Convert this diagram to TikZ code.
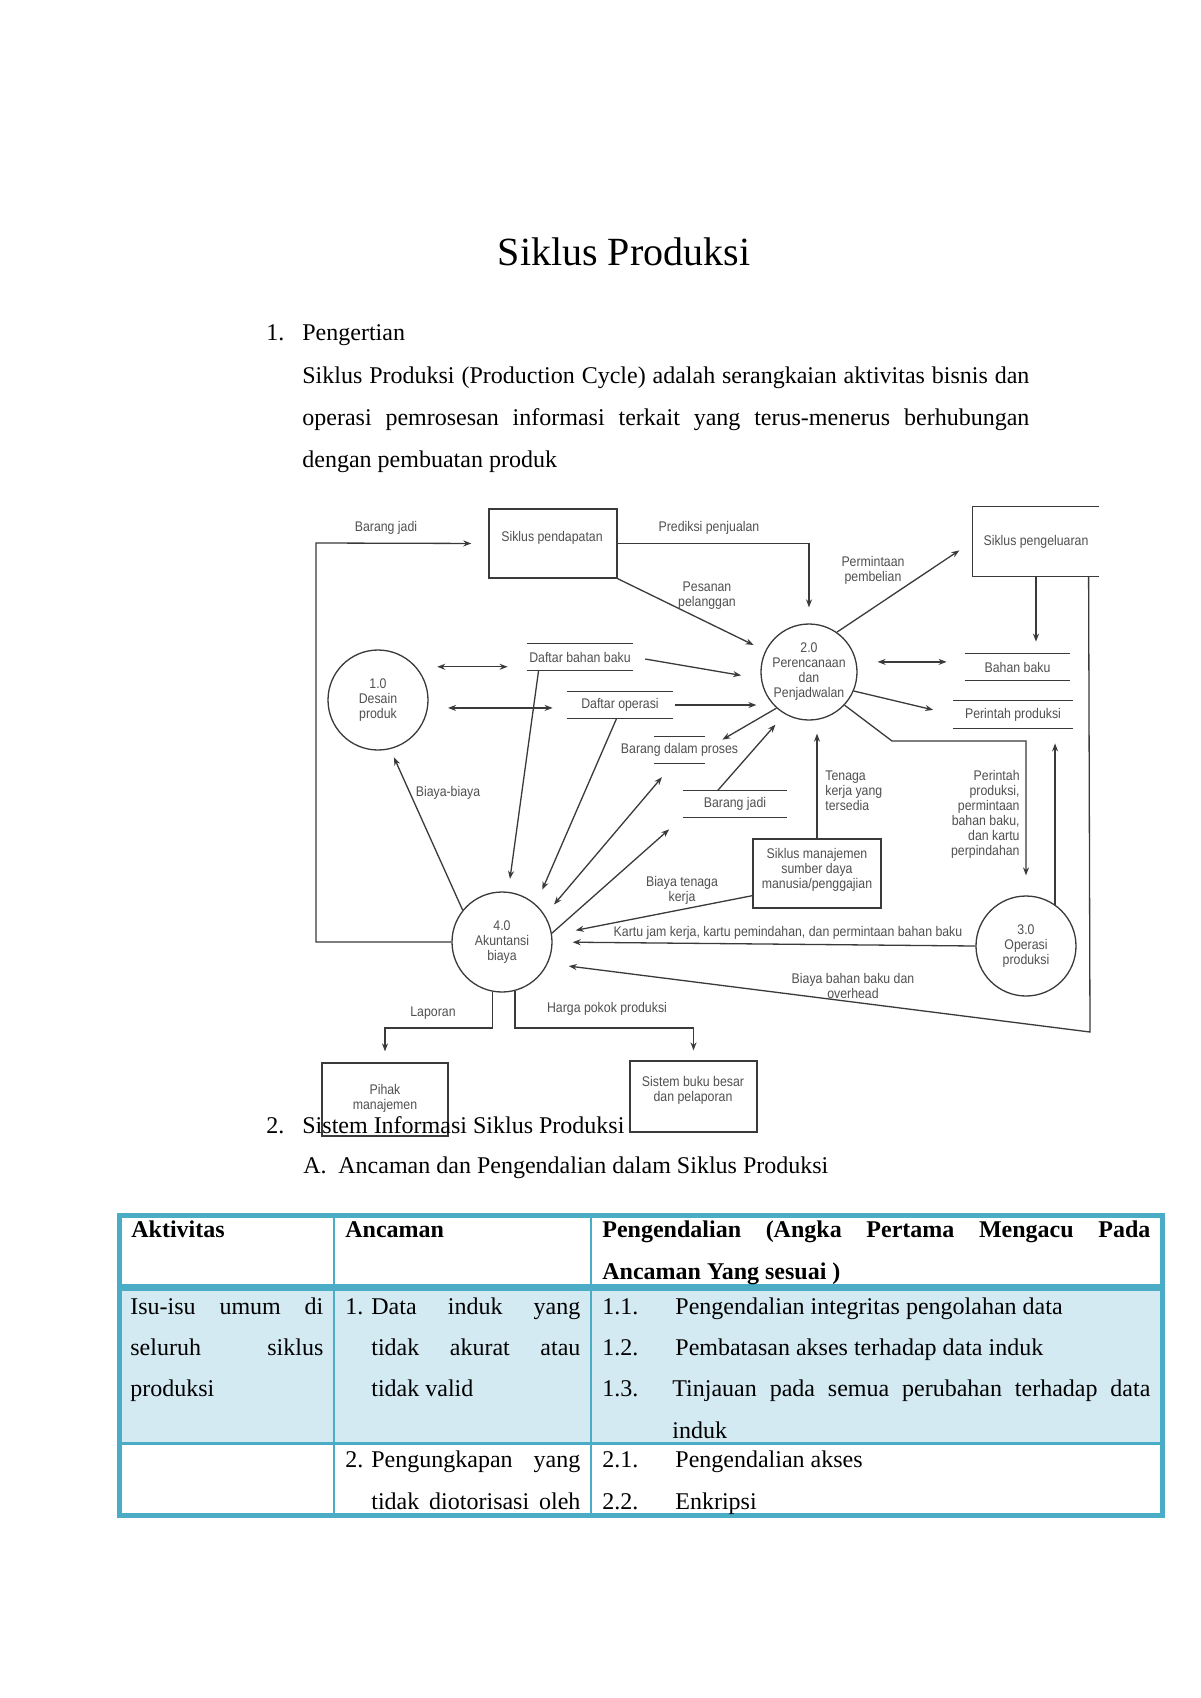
\documentclass[tikz,border=0pt]{standalone}
\usepackage{fontspec}
\setmainfont{Liberation Serif}
\newfontfamily\dfdfont[FakeStretch=0.88]{Liberation Sans}
\usetikzlibrary{arrows.meta,calc}
\definecolor{tblue}{HTML}{4BACC6}
\definecolor{tfill}{HTML}{D3EAF2}
\definecolor{dline}{HTML}{3A3A3A}
\definecolor{dtext}{HTML}{505050}
\begin{document}
\begin{tikzpicture}[x=0.5pt,y=-0.5pt,
  dfd/.style={font=\dfdfont\fontsize{7}{7.5}\selectfont, text=dtext, inner sep=0pt, align=center},
  proc/.style={dfd, draw=dline, line width=0.65pt, circle, minimum size=50pt},
  ent/.style={draw=dline, line width=0.65pt, rectangle, inner sep=0pt, minimum width=64pt, minimum height=34.5pt},
  store/.style={dfd, rectangle, minimum height=13pt},
  flow/.style={draw=dline, line width=0.65pt},
  arr/.style={flow, -{Stealth[length=4pt,width=3pt]}},
  darr/.style={flow, {Stealth[length=4pt,width=3pt]}-{Stealth[length=4pt,width=3pt]}},
  body/.style={font=\fontsize{12}{14}\selectfont, inner sep=0pt, anchor=base west},
  bbold/.style={body, font=\bfseries\fontsize{12}{14}\selectfont},
]
\useasboundingbox (0,0) rectangle (1200,1698);
\fill[white] (0,0) rectangle (1200,1698);

% ---------- body text ----------
\node[inner sep=0pt, anchor=base, font=\fontsize{20}{24}\selectfont] (title) at (624,265) {Siklus Produksi};
\node[body] (n1) at (266,340) {1.};
\node[body] (h1) at (302,340) {Pengertian};
\node[body] (pa1) at (302,383) {\makebox[363.5pt][s]{Siklus Produksi (Production Cycle) adalah serangkaian aktivitas bisnis dan}};
\node[body] (pa2) at (302,425) {\makebox[363.5pt][s]{operasi pemrosesan informasi terkait yang terus-menerus berhubungan}};
\node[body] (pa3) at (302,467) {dengan pembuatan produk};

% ---------- diagram nodes ----------
\node[proc] (p1) at (378,700) {1.0\\Desain\\produk};
\node[proc, minimum size=48pt] (p2) at (809,672) {2.0\\Perencanaan\\dan\\Penjadwalan};
\node[proc] (p3) at (1026,946) {3.0\\Operasi\\produksi};
\node[proc] (p4) at (502,942) {4.0\\Akuntansi\\biaya};

\node[ent] (e1) at (553,543.5) {};
\node[dfd] (e1t) at (552,538) {Siklus pendapatan};
\node[dfd, minimum width=63pt, minimum height=34.5pt] (e2) at (1036,541.5) {Siklus pengeluaran};
\node[ent] (e3) at (817,873.5) {};
\node[dfd] (e3t) at (817,869.5) {Siklus manajemen\\sumber daya\\manusia/penggajian};
\node[ent, minimum width=63pt, minimum height=36.5pt] (e4) at (385,1099.5) {};
\node[dfd] (e4t) at (385,1098) {Pihak\\manajemen};
\node[ent, minimum width=63.5pt, minimum height=35.5pt] (e5) at (693.5,1096.5) {};
\node[dfd] (e5t) at (693,1090) {Sistem buku besar\\dan pelaporan};
\draw[flow] (e2.north east) -- (e2.north west) -- (e2.south west) -- (e2.south east);

\node[store, minimum width=53pt] (s1) at (580,657) {Daftar bahan baku};
\node[store, minimum width=53pt] (s2) at (620,705) {Daftar operasi};
\node[store, minimum width=25.5pt, label={[dfd]center:Barang dalam proses}] (s3) at (679.5,750) {};
\node[store, minimum width=52pt] (s4) at (735,804) {Barang jadi};
\node[store, minimum width=52.5pt] (s5) at (1017.5,667) {Bahan baku};
\node[store, minimum width=60pt, minimum height=13.5pt] (s6) at (1013,714.5) {Perintah produksi};
\foreach \s in {s1,s2,s3,s4,s5,s6}{
  \draw[flow] (\s.north west) -- (\s.north east) (\s.south west) -- (\s.south east);
}

\coordinate (c1) at (316,543);
\coordinate (c2) at (1090,1032);
\coordinate (c3) at (892,741);
\coordinate (bus) at (500,1028);

% ---------- connectors ----------
\draw[arr, shorten >=8.5pt] (p4.west) -- (p4.west -| c1) -- (c1) -- (e1.west);
\draw[arr, shorten >=8pt] (e1.east) -| (p2.north);
\draw[arr, shorten >=6.5pt] (e1.south east) -- (p2);
\draw[arr, shorten >=8pt] (p2.55) -- (e2.west);
\draw[arr, shorten >=6pt] (e2.south) -- (e2.south |- s5.north);
\draw[arr, shorten >=10.5pt] ($(e2.south west)+(116,0)$) -- (c2) -- (p4.-25);
\draw[darr, shorten <=10.5pt, shorten >=9pt] (p2.12) -- (p2.12 -| s5.west);
\draw[arr, shorten >=10pt] (p2.-23) -- (s6.west);
\draw[arr, shorten >=10pt] (p2.-43) -- (c3) -| (p3.north);
\draw[arr, shorten >=7.5pt] (p3.55) -- (p3.55 |- s6.south);
\draw[arr, shorten >=10pt] (p3.west) -- (p4.east);
\draw[arr, shorten >=12pt] ($(e3.south west)+(0,-13)$) -- (p4.8);
\draw[arr, shorten >=6.5pt] (e3.north) -- (e3.north |- p2.south);
\draw[arr, shorten <=6pt, shorten >=10pt] (s1.east) -- (p2.188);
\draw[arr, shorten <=1pt, shorten >=2pt] (s2.east) -- (s2.east -| p2.west);
\draw[arr] (p2.228) -- ($(s3.north east)+(17,3)$);
\draw[arr, shorten >=7pt] ($(s4.north west)+(35,0)$) -- (p2.240);
\draw[darr, shorten <=10.5pt, shorten >=9.5pt] (p1.41) -- (p1.41 -| s1.west);
\draw[darr, shorten <=10pt, shorten >=7pt] (p1.-9) -- (p1.-9 -| s2.west);
\draw[arr, shorten >=6.5pt] ($(s1.south west)+(12,0)$) -- (p4.83);
\draw[arr, shorten >=8pt] ($(s2.south west)+(50,0)$) -- (p4.48);
\draw[darr, shorten <=7pt, shorten >=9pt] (p4.32) -- ($(s3.south west)+(20,0)$);
\draw[arr, shorten >=9pt] (p4.10) -- (s4.south west);
\draw[arr, shorten >=4.5pt] (p4.141) -- (p1.-76);
\draw[arr, shorten >=5.5pt] (p4.-101.5) -- (p4.-101.5 |- bus) -| (e4.north);
\draw[arr, shorten >=5pt] (p4.-75) -- (p4.-75 |- bus) -| (e5.north);

% ---------- flow labels ----------
\node[dfd] (l1) at (386,528) {Barang jadi};
\node[dfd] (l2) at (709,528) {Prediksi penjualan};
\node[dfd] (l3) at (707,596) {Pesanan\\pelanggan};
\node[dfd] (l4) at (873,570) {Permintaan\\pembelian};
\node[dfd] (l5) at (448,793) {Biaya-biaya};
\node[dfd, align=left, anchor=west] (l6) at (825,791) {Tenaga\\kerja yang\\tersedia};
\node[dfd, align=right, anchor=east] (l7) at (1020,814) {Perintah\\produksi,\\permintaan\\bahan baku,\\dan kartu\\perpindahan};
\node[dfd] (l8) at (682,890) {Biaya tenaga\\kerja};
\node[dfd] (l9) at (788,933) {Kartu jam kerja, kartu pemindahan, dan permintaan bahan baku};
\node[dfd] (l10) at (853,985.5) {Biaya bahan baku dan\\overhead};
\node[dfd] (l11) at (433,1013) {Laporan};
\node[dfd] (l12) at (607,1009) {Harga pokok produksi};

% ---------- section 2 ----------
\node[body] (n2) at (266,1133) {2.};
\node[body] (h2) at (302,1133) {Sistem Informasi Siklus Produksi};
\node[body] (nA) at (303,1173) {A.};
\node[body] (hA) at (338,1173) {Ancaman dan Pengendalian dalam Siklus Produksi};

% ---------- table ----------
\fill[tfill] (122,1291) rectangle (1160,1442);
\draw[tblue, line width=1.2pt] (334,1215) -- (334,1515.5) (591,1215) -- (591,1515.5);
\draw[tblue, line width=1.5pt] (119.5,1443.5) -- (1162.5,1443.5);
\draw[tblue, line width=3.5pt] (119.5,1287.5) -- (1162.5,1287.5);
\draw[tblue, line width=2.5pt] (119.5,1215) rectangle (1162.5,1515.5);

\node[bbold] (th1) at (131,1237) {Aktivitas};
\node[bbold] (th2) at (345,1237) {Ancaman};
\node[bbold] (th3) at (602,1237) {\makebox[274pt][s]{Pengendalian (Angka Pertama Mengacu Pada}};
\node[bbold] (th3b) at (602,1279) {Ancaman Yang sesuai )};

\node[body] (a1) at (130,1314) {\makebox[96.5pt][s]{Isu-isu umum di}};
\node[body] (a2) at (130,1355) {\makebox[96.5pt][s]{seluruh siklus}};
\node[body] (a3) at (130,1396) {produksi};

\node[body] (b1n) at (345,1314) {1.};
\node[body] (b1) at (371,1314) {\makebox[104.5pt][s]{Data induk yang}};
\node[body] (b2) at (371,1355) {\makebox[104.5pt][s]{tidak akurat atau}};
\node[body] (b3) at (371,1396) {tidak valid};

\node[body] (c11n) at (602,1314) {1.1.};
\node[body] (c11) at (675,1314) {Pengendalian integritas pengolahan data};
\node[body] (c12n) at (602,1355) {1.2.};
\node[body] (c12) at (675,1355) {Pembatasan akses terhadap data induk};
\node[body] (c13n) at (602,1396) {1.3.};
\node[body] (c13) at (672,1396) {\makebox[239pt][s]{Tinjauan pada semua perubahan terhadap data}};
\node[body] (c13b) at (672,1438) {induk};

\node[body] (b4n) at (345,1467) {2.};
\node[body] (b4) at (371,1467) {\makebox[104.5pt][s]{Pengungkapan yang}};
\node[body] (b5) at (371,1509) {\makebox[104.5pt][s]{tidak diotorisasi oleh}};
\node[body] (c21n) at (602,1467) {2.1.};
\node[body] (c21) at (675,1467) {Pengendalian akses};
\node[body] (c22n) at (602,1509) {2.2.};
\node[body] (c22) at (675,1509) {Enkripsi};
\end{tikzpicture}
\end{document}
